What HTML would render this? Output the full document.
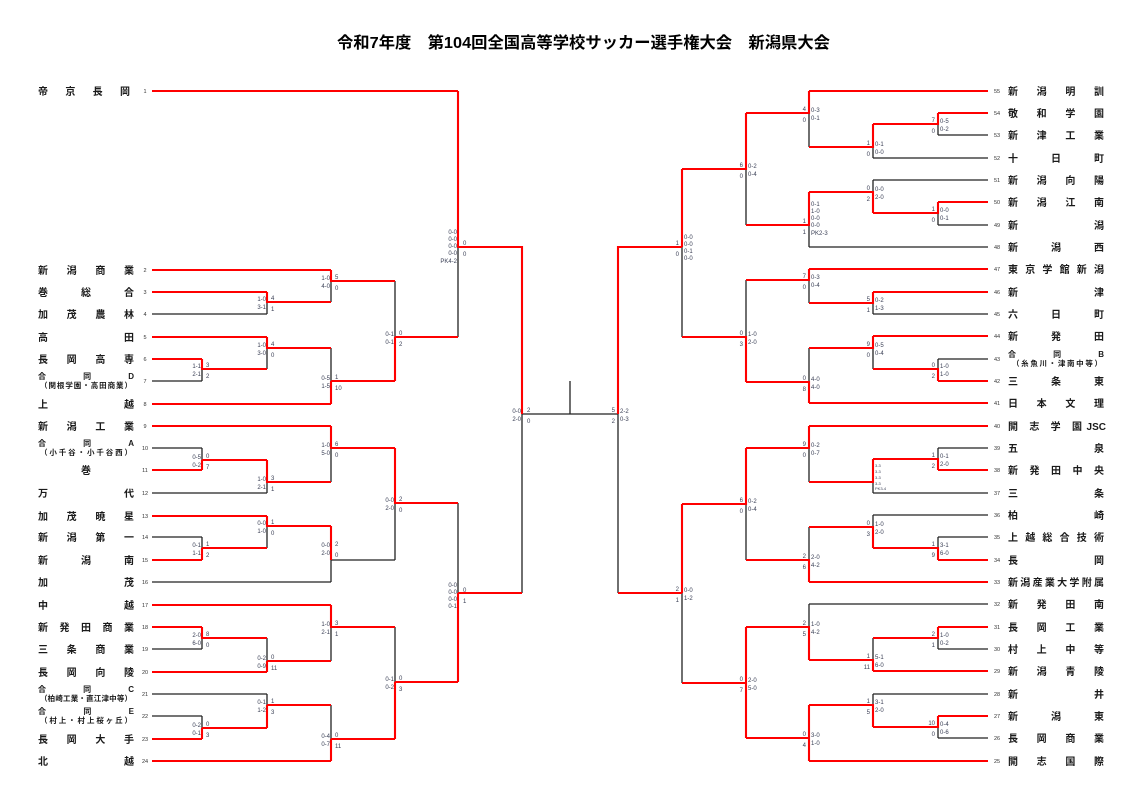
<!DOCTYPE html>
<html><head><meta charset="utf-8">
<style>
html,body{margin:0;padding:0;background:#fff;}
svg{display:block;}
.n{font-family:"Liberation Sans","Noto Sans CJK JP",sans-serif;font-size:10px;fill:#1a1a1a;font-weight:bold;}
.n2{font-family:"Liberation Sans","Noto Sans CJK JP",sans-serif;font-size:8px;fill:#1a1a1a;font-weight:bold;}
.sub{font-family:"Liberation Sans","Noto Sans CJK JP",sans-serif;font-size:7.5px;fill:#1a1a1a;font-weight:bold;}
.num{font-family:"Liberation Sans",sans-serif;font-size:5.5px;fill:#333;text-anchor:middle;}
.s{font-family:"Liberation Sans",sans-serif;font-size:6px;fill:#3a3f55;}
.se{font-family:"Liberation Sans",sans-serif;font-size:6px;fill:#3a3f55;text-anchor:end;}
.t{font-family:"Liberation Sans","Noto Sans CJK JP",sans-serif;font-size:16px;font-weight:bold;fill:#000;}
</style></head>
<body>
<svg width="1148" height="806" viewBox="0 0 1148 806" xmlns="http://www.w3.org/2000/svg">
<text class="t" x="337" y="48" textLength="493" lengthAdjust="spacingAndGlyphs">令和7年度　第104回全国高等学校サッカー選手権大会　新潟県大会</text>

<path fill="none" stroke="#222" stroke-width="1.3" d="
M152 314H267 M152 381H202 M152 448H202 M152 493H267 M152 537H202 M152 582H331 M152 649H202 M152 694H267 M152 716H202
M202 369V381 M202 448V460 M202 537V548 M202 638V649 M202 716V728
M267 302V314 M267 348V369 M267 482V493 M267 526V548 M267 638V661 M267 694V705
M331 281V302 M331 348V381 M331 448V482 M331 560V582 M331 560H395 M331 627V661 M331 705V739
M395 281V337 M395 503V560 M395 627V682
M458 247V337 M458 503V593
M522 414V593 M522 414H618 M570 381V414 M618 414V593
M938 135H988 M873 158H988 M873 180H988 M938 225H988 M809 247H988 M873 314H988 M938 359H988 M938 448H988 M873 493H988 M873 515H988 M938 537H988 M809 604H988 M938 649H988 M873 694H988 M938 738H988
M938 124V135 M938 213V225 M938 359V369 M938 448V459 M938 537V548 M938 638V649 M938 727V738
M873 147V158 M873 180V192 M873 303V314 M873 348V369 M873 482V493 M873 515V527 M873 638V660 M873 694V705
M809 113V147 M809 225V247 M809 280V303 M809 348V382 M809 448V482 M809 527V560 M809 604V627
M746 169V225 M746 280V337 M746 504V560
M682 247V337 M682 593V683"/>

<path fill="none" stroke="#f00" stroke-width="2.1" d="
M152 91H458 M152 270H331 M152 292H267 M152 337H267 M152 359H202 M152 404H331 M152 426H331 M152 470H202 M152 516H267 M152 560H202 M152 605H331 M152 627H202 M152 672H267 M152 739H202 M152 761H331
M202 359V369H267 M202 460V470 M202 460H267 M202 548V560 M202 548H267 M202 627V638H267 M202 728V739 M202 728H267
M267 292V302H331 M267 337V348H331 M267 460V482H331 M267 516V526H331 M267 661V672 M267 661H331 M267 705V728 M267 705H331
M331 270V281H395 M331 381V404 M331 381H395 M331 426V448H395 M331 526V560 M331 605V627H395 M331 739V761 M331 739H395
M395 337V381 M395 337H458 M395 448V503H458 M395 682V739 M395 682H458
M458 91V247H522V414 M458 593V682 M458 593H522
M618 414V247H682 M618 593H682
M809 91H988 M938 113H988 M938 202H988 M809 269H988 M873 292H988 M873 336H988 M938 381H988 M809 403H988 M809 426H988 M938 470H988 M938 560H988 M809 582H988 M938 627H988 M873 671H988 M938 716H988 M809 761H988
M938 113V124H873 M938 202V213H873 M938 381V369H873 M938 470V459H873 M938 560V548H873 M938 627V638H873 M938 716V727H873
M873 124V147H809 M873 213V192H809 M873 292V303H809 M873 336V348H809 M873 459V482H809 M873 548V527H809 M873 671V660H809 M873 727V705H809
M809 91V113H746 M809 192V225H746 M809 269V280H746 M809 403V382H746 M809 426V448H746 M809 582V560H746 M809 660V627H746 M809 705V761 M809 738H746
M746 113V169H682 M746 382V337H682 M746 448V504H682 M746 627V738 M746 683H682
M682 169V247 M682 504V593"/>

<g>
<text class="n" x="38" y="95" textLength="92" lengthAdjust="spacing">帝京長岡</text>
<text class="n" x="38" y="274" textLength="96" lengthAdjust="spacing">新潟商業</text>
<text class="n" x="38" y="296" textLength="96" lengthAdjust="spacing">巻総合</text>
<text class="n" x="38" y="318" textLength="96" lengthAdjust="spacing">加茂農林</text>
<text class="n" x="38" y="341" textLength="96" lengthAdjust="spacing">高田</text>
<text class="n" x="38" y="363" textLength="96" lengthAdjust="spacing">長岡高専</text>
<text class="n2" x="38" y="379" textLength="96" lengthAdjust="spacing">合同D</text>
<text class="sub" x="40" y="388" textLength="92" lengthAdjust="spacing">（関根学園・高田商業）</text>
<text class="n" x="38" y="408" textLength="96" lengthAdjust="spacing">上越</text>
<text class="n" x="38" y="430" textLength="96" lengthAdjust="spacing">新潟工業</text>
<text class="n2" x="38" y="446" textLength="96" lengthAdjust="spacing">合同A</text>
<text class="sub" x="40" y="455" textLength="92" lengthAdjust="spacing">（小千谷・小千谷西）</text>
<text class="n" x="81" y="474">巻</text>
<text class="n" x="38" y="497" textLength="96" lengthAdjust="spacing">万代</text>
<text class="n" x="38" y="520" textLength="96" lengthAdjust="spacing">加茂暁星</text>
<text class="n" x="38" y="541" textLength="96" lengthAdjust="spacing">新潟第一</text>
<text class="n" x="38" y="564" textLength="96" lengthAdjust="spacing">新潟南</text>
<text class="n" x="38" y="586" textLength="96" lengthAdjust="spacing">加茂</text>
<text class="n" x="38" y="609" textLength="96" lengthAdjust="spacing">中越</text>
<text class="n" x="38" y="631" textLength="96" lengthAdjust="spacing">新発田商業</text>
<text class="n" x="38" y="653" textLength="96" lengthAdjust="spacing">三条商業</text>
<text class="n" x="38" y="676" textLength="96" lengthAdjust="spacing">長岡向陵</text>
<text class="n2" x="38" y="692" textLength="96" lengthAdjust="spacing">合同C</text>
<text class="sub" x="40" y="701" textLength="92" lengthAdjust="spacing">（柏崎工業・直江津中等）</text>
<text class="n2" x="38" y="714" textLength="96" lengthAdjust="spacing">合同E</text>
<text class="sub" x="40" y="723" textLength="92" lengthAdjust="spacing">（村上・村上桜ヶ丘）</text>
<text class="n" x="38" y="743" textLength="96" lengthAdjust="spacing">長岡大手</text>
<text class="n" x="38" y="765" textLength="96" lengthAdjust="spacing">北越</text>
</g>
<g>
<text class="num" x="145" y="93">1</text><text class="num" x="145" y="272">2</text><text class="num" x="145" y="294">3</text><text class="num" x="145" y="316">4</text><text class="num" x="145" y="339">5</text><text class="num" x="145" y="361">6</text><text class="num" x="145" y="383">7</text><text class="num" x="145" y="406">8</text><text class="num" x="145" y="428">9</text><text class="num" x="145" y="450">10</text><text class="num" x="145" y="472">11</text><text class="num" x="145" y="495">12</text><text class="num" x="145" y="518">13</text><text class="num" x="145" y="539">14</text><text class="num" x="145" y="562">15</text><text class="num" x="145" y="584">16</text><text class="num" x="145" y="607">17</text><text class="num" x="145" y="629">18</text><text class="num" x="145" y="651">19</text><text class="num" x="145" y="674">20</text><text class="num" x="145" y="696">21</text><text class="num" x="145" y="718">22</text><text class="num" x="145" y="741">23</text><text class="num" x="145" y="763">24</text>
</g>

<g>
<text class="n" x="1008" y="95" textLength="96" lengthAdjust="spacing">新潟明訓</text>
<text class="n" x="1008" y="117" textLength="96" lengthAdjust="spacing">敬和学園</text>
<text class="n" x="1008" y="139" textLength="96" lengthAdjust="spacing">新津工業</text>
<text class="n" x="1008" y="162" textLength="96" lengthAdjust="spacing">十日町</text>
<text class="n" x="1008" y="184" textLength="96" lengthAdjust="spacing">新潟向陽</text>
<text class="n" x="1008" y="206" textLength="96" lengthAdjust="spacing">新潟江南</text>
<text class="n" x="1008" y="229" textLength="96" lengthAdjust="spacing">新潟</text>
<text class="n" x="1008" y="251" textLength="96" lengthAdjust="spacing">新潟西</text>
<text class="n" x="1008" y="273" textLength="96" lengthAdjust="spacing">東京学館新潟</text>
<text class="n" x="1008" y="296" textLength="96" lengthAdjust="spacing">新津</text>
<text class="n" x="1008" y="318" textLength="96" lengthAdjust="spacing">六日町</text>
<text class="n" x="1008" y="340" textLength="96" lengthAdjust="spacing">新発田</text>
<text class="n2" x="1008" y="357" textLength="96" lengthAdjust="spacing">合同B</text>
<text class="sub" x="1012" y="366" textLength="90" lengthAdjust="spacing">（糸魚川・津南中等）</text>
<text class="n" x="1008" y="385" textLength="96" lengthAdjust="spacing">三条東</text>
<text class="n" x="1008" y="407" textLength="96" lengthAdjust="spacing">日本文理</text>
<text class="n" x="1008" y="430" textLength="74" lengthAdjust="spacing">開志学園</text>
<text class="n" x="1106" y="430" text-anchor="end">JSC</text>
<text class="n" x="1008" y="452" textLength="96" lengthAdjust="spacing">五泉</text>
<text class="n" x="1008" y="474" textLength="96" lengthAdjust="spacing">新発田中央</text>
<text class="n" x="1008" y="497" textLength="96" lengthAdjust="spacing">三条</text>
<text class="n" x="1008" y="519" textLength="96" lengthAdjust="spacing">柏崎</text>
<text class="n" x="1008" y="541" textLength="96" lengthAdjust="spacing">上越総合技術</text>
<text class="n" x="1008" y="564" textLength="96" lengthAdjust="spacing">長岡</text>
<text class="n" x="1008" y="586" textLength="96" lengthAdjust="spacing">新潟産業大学附属</text>
<text class="n" x="1008" y="608" textLength="96" lengthAdjust="spacing">新発田南</text>
<text class="n" x="1008" y="631" textLength="96" lengthAdjust="spacing">長岡工業</text>
<text class="n" x="1008" y="653" textLength="96" lengthAdjust="spacing">村上中等</text>
<text class="n" x="1008" y="675" textLength="96" lengthAdjust="spacing">新潟青陵</text>
<text class="n" x="1008" y="698" textLength="96" lengthAdjust="spacing">新井</text>
<text class="n" x="1008" y="720" textLength="96" lengthAdjust="spacing">新潟東</text>
<text class="n" x="1008" y="742" textLength="96" lengthAdjust="spacing">長岡商業</text>
<text class="n" x="1008" y="765" textLength="96" lengthAdjust="spacing">開志国際</text>
</g>
<g>
<text class="num" x="997" y="93">55</text><text class="num" x="997" y="115">54</text><text class="num" x="997" y="137">53</text><text class="num" x="997" y="160">52</text><text class="num" x="997" y="182">51</text><text class="num" x="997" y="204">50</text><text class="num" x="997" y="227">49</text><text class="num" x="997" y="249">48</text><text class="num" x="997" y="271">47</text><text class="num" x="997" y="294">46</text><text class="num" x="997" y="316">45</text><text class="num" x="997" y="338">44</text><text class="num" x="997" y="361">43</text><text class="num" x="997" y="383">42</text><text class="num" x="997" y="405">41</text><text class="num" x="997" y="428">40</text><text class="num" x="997" y="450">39</text><text class="num" x="997" y="472">38</text><text class="num" x="997" y="495">37</text><text class="num" x="997" y="517">36</text><text class="num" x="997" y="539">35</text><text class="num" x="997" y="562">34</text><text class="num" x="997" y="584">33</text><text class="num" x="997" y="606">32</text><text class="num" x="997" y="629">31</text><text class="num" x="997" y="651">30</text><text class="num" x="997" y="673">29</text><text class="num" x="997" y="696">28</text><text class="num" x="997" y="718">27</text><text class="num" x="997" y="740">26</text><text class="num" x="997" y="763">25</text>
</g>

<g>
<text class="se" x="201" y="368">1-1</text><text class="se" x="201" y="376">2-1</text><text class="s" x="206" y="367">3</text><text class="s" x="206" y="378">2</text>
<text class="se" x="201" y="459">0-5</text><text class="se" x="201" y="467">0-2</text><text class="s" x="206" y="458">0</text><text class="s" x="206" y="469">7</text>
<text class="se" x="201" y="547">0-1</text><text class="se" x="201" y="555">1-1</text><text class="s" x="206" y="546">1</text><text class="s" x="206" y="557">2</text>
<text class="se" x="201" y="637">2-0</text><text class="se" x="201" y="645">6-0</text><text class="s" x="206" y="636">8</text><text class="s" x="206" y="647">0</text>
<text class="se" x="201" y="727">0-2</text><text class="se" x="201" y="735">0-1</text><text class="s" x="206" y="726">0</text><text class="s" x="206" y="737">3</text>
<text class="se" x="266" y="301">1-0</text><text class="se" x="266" y="309">3-1</text><text class="s" x="271" y="300">4</text><text class="s" x="271" y="311">1</text>
<text class="se" x="266" y="347">1-0</text><text class="se" x="266" y="355">3-0</text><text class="s" x="271" y="346">4</text><text class="s" x="271" y="357">0</text>
<text class="se" x="266" y="481">1-0</text><text class="se" x="266" y="489">2-1</text><text class="s" x="271" y="480">3</text><text class="s" x="271" y="491">1</text>
<text class="se" x="266" y="525">0-0</text><text class="se" x="266" y="533">1-0</text><text class="s" x="271" y="524">1</text><text class="s" x="271" y="535">0</text>
<text class="se" x="266" y="660">0-2</text><text class="se" x="266" y="668">0-9</text><text class="s" x="271" y="659">0</text><text class="s" x="271" y="670">11</text>
<text class="se" x="266" y="704">0-1</text><text class="se" x="266" y="712">1-2</text><text class="s" x="271" y="703">1</text><text class="s" x="271" y="714">3</text>
<text class="se" x="330" y="280">1-0</text><text class="se" x="330" y="288">4-0</text><text class="s" x="335" y="279">5</text><text class="s" x="335" y="290">0</text>
<text class="se" x="330" y="380">0-5</text><text class="se" x="330" y="388">1-5</text><text class="s" x="335" y="379">1</text><text class="s" x="335" y="390">10</text>
<text class="se" x="330" y="447">1-0</text><text class="se" x="330" y="455">5-0</text><text class="s" x="335" y="446">6</text><text class="s" x="335" y="457">0</text>
<text class="se" x="330" y="547">0-0</text><text class="se" x="330" y="555">2-0</text><text class="s" x="335" y="546">2</text><text class="s" x="335" y="557">0</text>
<text class="se" x="330" y="626">1-0</text><text class="se" x="330" y="634">2-1</text><text class="s" x="335" y="625">3</text><text class="s" x="335" y="636">1</text>
<text class="se" x="330" y="738">0-4</text><text class="se" x="330" y="746">0-7</text><text class="s" x="335" y="737">0</text><text class="s" x="335" y="748">11</text>
<text class="se" x="394" y="336">0-1</text><text class="se" x="394" y="344">0-1</text><text class="s" x="399" y="335">0</text><text class="s" x="399" y="346">2</text>
<text class="se" x="394" y="502">0-0</text><text class="se" x="394" y="510">2-0</text><text class="s" x="399" y="501">2</text><text class="s" x="399" y="512">0</text>
<text class="se" x="394" y="681">0-1</text><text class="se" x="394" y="689">0-2</text><text class="s" x="399" y="680">0</text><text class="s" x="399" y="691">3</text>
<text class="se" x="457" y="234">0-0</text><text class="se" x="457" y="241">0-0</text><text class="se" x="457" y="248">0-0</text><text class="se" x="457" y="255">0-0</text><text class="se" x="457" y="263">PK4-2</text><text class="s" x="463" y="245">0</text><text class="s" x="463" y="256">0</text>
<text class="se" x="457" y="587">0-0</text><text class="se" x="457" y="594">0-0</text><text class="se" x="457" y="601">0-0</text><text class="se" x="457" y="608">0-1</text><text class="s" x="463" y="592">0</text><text class="s" x="463" y="603">1</text>
<text class="se" x="521" y="413">0-0</text><text class="se" x="521" y="421">2-0</text><text class="s" x="527" y="412">2</text><text class="s" x="527" y="423">0</text>
<text class="se" x="615" y="412">5</text><text class="se" x="615" y="423">2</text><text class="s" x="620" y="413">2-2</text><text class="s" x="620" y="421">0-3</text>
</g>

<g>
<text class="se" x="935" y="122">7</text><text class="se" x="935" y="133">0</text><text class="s" x="940" y="123">0-5</text><text class="s" x="940" y="131">0-2</text>
<text class="se" x="935" y="211">1</text><text class="se" x="935" y="222">0</text><text class="s" x="940" y="212">0-0</text><text class="s" x="940" y="220">0-1</text>
<text class="se" x="935" y="367">0</text><text class="se" x="935" y="378">2</text><text class="s" x="940" y="368">1-0</text><text class="s" x="940" y="376">1-0</text>
<text class="se" x="935" y="457">1</text><text class="se" x="935" y="468">2</text><text class="s" x="940" y="458">0-1</text><text class="s" x="940" y="466">2-0</text>
<text class="se" x="935" y="546">1</text><text class="se" x="935" y="557">9</text><text class="s" x="940" y="547">3-1</text><text class="s" x="940" y="555">6-0</text>
<text class="se" x="935" y="636">2</text><text class="se" x="935" y="647">1</text><text class="s" x="940" y="637">1-0</text><text class="s" x="940" y="645">0-2</text>
<text class="se" x="935" y="725">10</text><text class="se" x="935" y="736">0</text><text class="s" x="940" y="726">0-4</text><text class="s" x="940" y="734">0-6</text>
<text class="se" x="870" y="145">1</text><text class="se" x="870" y="156">0</text><text class="s" x="875" y="146">0-1</text><text class="s" x="875" y="154">0-0</text>
<text class="se" x="870" y="190">0</text><text class="se" x="870" y="201">2</text><text class="s" x="875" y="191">0-0</text><text class="s" x="875" y="199">2-0</text>
<text class="se" x="870" y="301">5</text><text class="se" x="870" y="312">1</text><text class="s" x="875" y="302">0-2</text><text class="s" x="875" y="310">1-3</text>
<text class="se" x="870" y="346">9</text><text class="se" x="870" y="357">0</text><text class="s" x="875" y="347">0-5</text><text class="s" x="875" y="355">0-4</text>
<text class="s" x="875" y="467" style="font-size:4px">3-3</text><text class="s" x="875" y="473" style="font-size:4px">3-3</text><text class="s" x="875" y="479" style="font-size:4px">3-3</text><text class="s" x="875" y="485" style="font-size:4px">3-3</text><text class="s" x="875" y="490" style="font-size:4px">PK3-4</text>
<text class="se" x="870" y="525">0</text><text class="se" x="870" y="536">3</text><text class="s" x="875" y="526">1-0</text><text class="s" x="875" y="534">2-0</text>
<text class="se" x="870" y="658">1</text><text class="se" x="870" y="669">11</text><text class="s" x="875" y="659">5-1</text><text class="s" x="875" y="667">6-0</text>
<text class="se" x="870" y="703">1</text><text class="se" x="870" y="714">5</text><text class="s" x="875" y="704">3-1</text><text class="s" x="875" y="712">2-0</text>
<text class="se" x="806" y="111">4</text><text class="se" x="806" y="122">0</text><text class="s" x="811" y="112">0-3</text><text class="s" x="811" y="120">0-1</text>
<text class="se" x="806" y="223">1</text><text class="se" x="806" y="234">1</text><text class="s" x="811" y="206">0-1</text><text class="s" x="811" y="213">1-0</text><text class="s" x="811" y="220">0-0</text><text class="s" x="811" y="227">0-0</text><text class="s" x="811" y="235">PK2-3</text>
<text class="se" x="806" y="278">7</text><text class="se" x="806" y="289">0</text><text class="s" x="811" y="279">0-3</text><text class="s" x="811" y="287">0-4</text>
<text class="se" x="806" y="380">0</text><text class="se" x="806" y="391">8</text><text class="s" x="811" y="381">4-0</text><text class="s" x="811" y="389">4-0</text>
<text class="se" x="806" y="446">9</text><text class="se" x="806" y="457">0</text><text class="s" x="811" y="447">0-2</text><text class="s" x="811" y="455">0-7</text>
<text class="se" x="806" y="558">2</text><text class="se" x="806" y="569">6</text><text class="s" x="811" y="559">2-0</text><text class="s" x="811" y="567">4-2</text>
<text class="se" x="806" y="625">2</text><text class="se" x="806" y="636">5</text><text class="s" x="811" y="626">1-0</text><text class="s" x="811" y="634">4-2</text>
<text class="se" x="806" y="736">0</text><text class="se" x="806" y="747">4</text><text class="s" x="811" y="737">3-0</text><text class="s" x="811" y="745">1-0</text>
<text class="se" x="743" y="167">6</text><text class="se" x="743" y="178">0</text><text class="s" x="748" y="168">0-2</text><text class="s" x="748" y="176">0-4</text>
<text class="se" x="743" y="335">0</text><text class="se" x="743" y="346">3</text><text class="s" x="748" y="336">1-0</text><text class="s" x="748" y="344">2-0</text>
<text class="se" x="743" y="502">6</text><text class="se" x="743" y="513">0</text><text class="s" x="748" y="503">0-2</text><text class="s" x="748" y="511">0-4</text>
<text class="se" x="743" y="681">0</text><text class="se" x="743" y="692">7</text><text class="s" x="748" y="682">2-0</text><text class="s" x="748" y="690">5-0</text>
<text class="se" x="679" y="245">1</text><text class="se" x="679" y="256">0</text><text class="s" x="684" y="239">0-0</text><text class="s" x="684" y="246">0-0</text><text class="s" x="684" y="253">0-1</text><text class="s" x="684" y="260">0-0</text>
<text class="se" x="679" y="591">2</text><text class="se" x="679" y="602">1</text><text class="s" x="684" y="592">0-0</text><text class="s" x="684" y="600">1-2</text>
</g>
</svg>
</body></html>
